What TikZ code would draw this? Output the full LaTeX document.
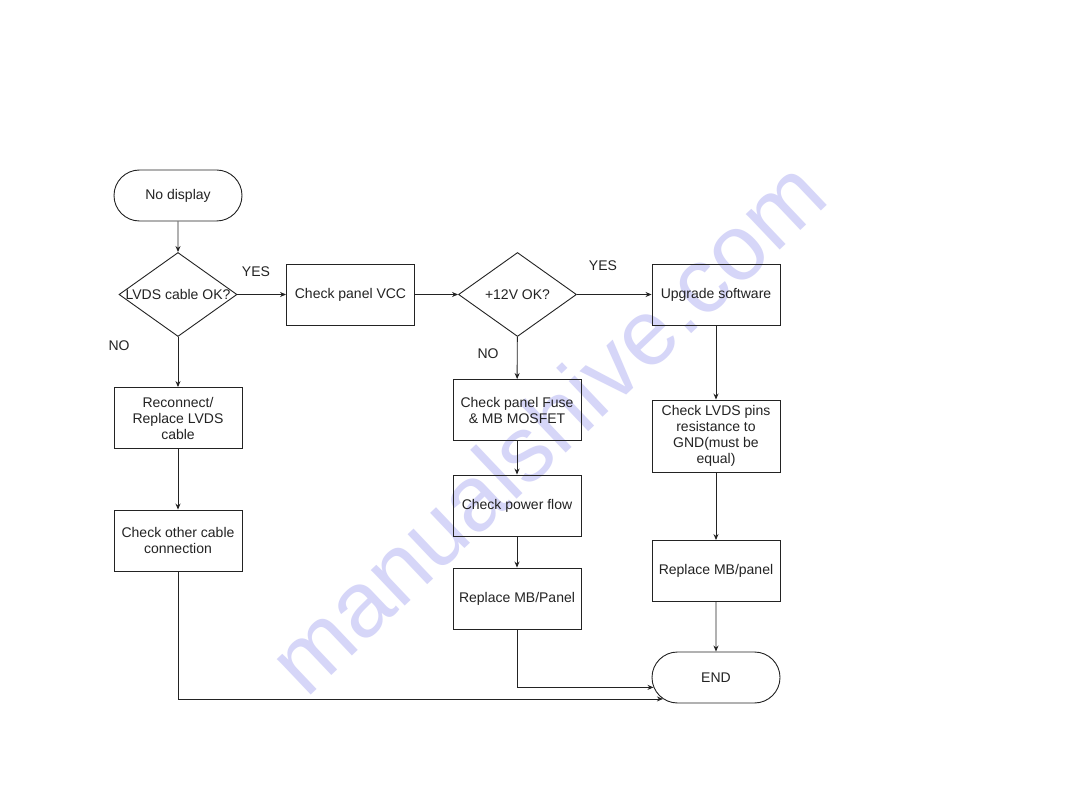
\documentclass[tikz,border=0pt]{standalone}
\usepackage{fontspec}
\setmainfont{Liberation Sans}
\usetikzlibrary{shapes.geometric,shapes.misc,arrows.meta}
\definecolor{ink}{RGB}{35,35,35}
\definecolor{wm}{RGB}{214,214,248}
\tikzset{
  base/.style={draw=ink, line width=0.9pt, text=ink, font=\fontsize{14}{16}\selectfont, align=center, inner sep=0pt},
  box/.style={base, rectangle, minimum width=128, minimum height=61},
  term/.style={base, rounded rectangle, minimum width=128, minimum height=51},
  dec/.style={base, diamond, minimum width=118, minimum height=84},
  lbl/.style={text=ink, font=\fontsize{14}{16}\selectfont, inner sep=0pt},
  arr/.style={draw=ink, line width=0.9pt, -{Stealth[length=6pt,width=5pt]}},
}
\begin{document}
\begin{tikzpicture}[x=1pt,y=-1pt]
\useasboundingbox[fill=white] (0,0) rectangle (1080,810);
\node[rotate=43.5, text=wm, font=\fontsize{93}{93}\selectfont, inner sep=0pt] (wmark) at (546,426) {manualshive.com};

\node[term] (start) at (178,195.5) {No display};
\node[dec] (d1) at (178,294.5) {\makebox[0pt]{LVDS cable OK?}};
\node[box] (vcc) at (350.5,294.5) {Check panel VCC};
\node[dec] (d2) at (517.5,294.5) {\makebox[0pt]{+12V OK?}};
\node[box] (upg) at (716,294.5) {Upgrade software};

\node[box] (recon) at (178,418) {Reconnect/\\Replace LVDS\\cable};
\node[box] (other) at (178,540.5) {Check other cable\\connection};

\node[box] (fuse) at (517,410) {Check panel Fuse\\\& MB MOSFET};
\node[box] (flow) at (517,505.5) {Check power flow};
\node[box] (rep1) at (517,598.5) {Replace MB/Panel};

\node[box, minimum height=72] (pins) at (716,436) {Check LVDS pins\\resistance to\\GND(must be\\equal)};
\node[box] (rep2) at (716,571) {Replace MB/panel};
\node[term] (end) at (716,677.5) {END};

\node[lbl] (yes1) at (256,272) {YES};
\node[lbl] (no1) at (119,346) {NO};
\node[lbl] (yes2) at (603,266) {YES};
\node[lbl] (no2) at (488,354) {NO};

\draw[arr] (start) -- (d1);
\draw[arr] (d1) -- (vcc);
\draw[arr] (vcc) -- (d2);
\draw[arr] (d2) -- (upg);
\draw[arr] (d1) -- (recon);
\draw[arr] (recon) -- (other);
\draw[arr] (d2) -- (fuse);
\draw[arr] (fuse) -- (flow);
\draw[arr] (flow) -- (rep1);
\draw[arr] (upg) -- (pins);
\draw[arr] (pins) -- (rep2);
\draw[arr] (rep2) -- (end);
\draw[arr] (other.south) |- (end.202);
\draw[arr] (rep1.south) |- (end.189);
\end{tikzpicture}
\end{document}
